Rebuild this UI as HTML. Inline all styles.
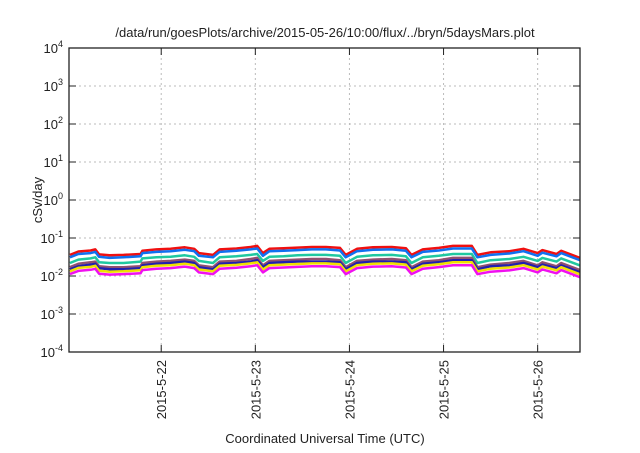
<!DOCTYPE html>
<html><head><meta charset="utf-8"><style>
body{margin:0;background:#fff}
svg text{font-family:"Liberation Sans",sans-serif;fill:#222}
</style></head><body>
<svg width="640" height="448" id="c"></svg>
<script>
const times=[21.03,21.12,21.25,21.30,21.34,21.45,21.60,21.78,21.80,21.95,22.10,22.25,22.35,22.40,22.55,22.62,22.80,22.95,23.02,23.08,23.15,23.30,23.45,23.60,23.75,23.90,23.96,24.08,24.25,24.45,24.60,24.66,24.78,24.95,25.10,25.30,25.36,25.50,25.70,25.85,26.00,26.05,26.20,26.25,26.45];
const redVals=[.036,.044,.047,.050,.037,.035,.036,.038,.046,.050,.052,.057,.052,.040,.036,.050,.053,.058,.062,.040,.052,.054,.056,.058,.058,.055,.036,.052,.057,.058,.054,.036,.050,.055,.062,.062,.036,.042,.045,.052,.040,.048,.038,.046,.030];
const blueVals=[.031,.038,.040,.043,.032,.030,.031,.033,.040,.043,.045,.049,.045,.034,.031,.043,.046,.050,.053,.034,.045,.046,.048,.050,.050,.047,.031,.045,.049,.050,.046,.031,.043,.047,.053,.053,.031,.036,.039,.045,.034,.041,.033,.040,.026];
const tealVals=[.022,.027,.029,.031,.023,.022,.022,.024,.029,.031,.032,.035,.032,.025,.022,.031,.033,.036,.038,.025,.032,.033,.035,.036,.036,.034,.022,.032,.035,.036,.033,.022,.031,.034,.038,.038,.022,.026,.028,.032,.025,.030,.024,.029,.019];
const purpleVals=[.017,.021,.023,.024,.018,.017,.017,.018,.022,.024,.025,.027,.025,.019,.017,.024,.025,.028,.030,.019,.025,.026,.027,.028,.028,.026,.017,.025,.027,.028,.026,.017,.024,.026,.030,.030,.017,.020,.022,.025,.019,.023,.018,.022,.0144];
const navyVals=[.015,.018,.020,.021,.016,.015,.015,.016,.019,.021,.022,.024,.022,.017,.015,.021,.022,.024,.026,.017,.022,.023,.024,.024,.024,.023,.015,.022,.024,.024,.023,.015,.021,.023,.026,.026,.015,.018,.019,.022,.017,.020,.016,.019,.0126];
const yellowVals=[.0133,.0163,.0174,.0185,.0137,.0130,.0133,.0141,.0170,.0185,.0192,.0211,.0192,.0148,.0133,.0185,.0196,.0215,.0229,.0148,.0192,.0200,.0207,.0215,.0215,.0204,.0133,.0192,.0211,.0215,.0200,.0133,.0185,.0204,.0229,.0229,.0133,.0155,.0167,.0192,.0148,.0178,.0141,.0170,.0111];
const magentaVals=[.0112,.0136,.0146,.0155,.0115,.0109,.0112,.0118,.0143,.0155,.0161,.0177,.0161,.0124,.0112,.0155,.0164,.0180,.0192,.0124,.0161,.0167,.0174,.0180,.0180,.0171,.0112,.0161,.0177,.0180,.0167,.0112,.0155,.0171,.0192,.0192,.0112,.0130,.0140,.0161,.0124,.0149,.0118,.0143,.0093];
const xTickDays=[22,23,24,25,26];
const xTickLabels=["2015-5-22","2015-5-23","2015-5-24","2015-5-25","2015-5-26"];
const yExps=[-4,-3,-2,-1,0,1,2,3,4];

const L=69,R=580,T=48,B=352,x0=21.02,x1=26.45;
const X=t=>L+(t-x0)/(x1-x0)*(R-L);
const Y=v=>B-(Math.log10(v)+4)/8*(B-T);
const svg=document.getElementById('c'),NS="http://www.w3.org/2000/svg";
function mk(tag,a,p){const e=document.createElementNS(NS,tag);for(const k in a)e.setAttribute(k,a[k]);(p||svg).appendChild(e);return e;}

const title=mk('text',{x:325,y:37,'text-anchor':'middle','font-size':13});


title.textContent='/data/run/goesPlots/archive/2015-05-26/10:00/flux/../bryn/5daysMars.plot';

yExps.forEach(e=>{
 const y=Y(Math.pow(10,e));
 if(e>-4&&e<4){const g=mk('line',{x1:L,x2:R,y1:y,y2:y,stroke:'#bbb','stroke-dasharray':'2,3','stroke-width':1});
 
 }
 mk('line',{x1:L,x2:L+7,y1:y,y2:y,stroke:'#222'});
 mk('line',{x1:R,x2:R-7,y1:y,y2:y,stroke:'#222'});
 const t=mk('text',{x:L-6,y:y+5,'text-anchor':'end','font-size':13});
 
 
 t.textContent='10';
 const s=mk('tspan',{dy:-6,'font-size':9},t);s.textContent=String(e);
});
xTickDays.forEach((d,i)=>{
 const x=X(d);
 const g=mk('line',{x1:x,x2:x,y1:T,y2:B,stroke:'#bbb','stroke-dasharray':'2,3'});
 
 
 mk('line',{x1:x,x2:x,y1:B,y2:B-7,stroke:'#222'});
 mk('line',{x1:x,x2:x,y1:T,y2:T+7,stroke:'#222'});
 const t=mk('text',{x:0,y:0,'text-anchor':'end','font-size':13,transform:`translate(${x+5},${B+8}) rotate(-90)`});
 
 
 t.textContent=xTickLabels[i];
});
const series=[['red',redVals,'#f01010'],['blue',blueVals,'#1070f0'],['teal',tealVals,'#20c8a0'],['purple',purpleVals,'#905070'],['navy',navyVals,'#2020b0'],['yellow',yellowVals,'#f0e000'],['magenta',magentaVals,'#f010f0']];
series.forEach(([n,vals,c])=>{
 const d=vals.map((v,i)=>(i?'L':'M')+X(times[i]).toFixed(1)+','+Y(v).toFixed(1)).join('');
 const p=mk('path',{d:d,fill:'none',stroke:c,'stroke-width':2.5,'stroke-linejoin':'round'});
 
 
});
const fr=mk('rect',{x:L,y:T,width:R-L,height:B-T,fill:'none',stroke:'#222','stroke-width':1.3});


const yt=mk('text',{x:0,y:0,'text-anchor':'middle','font-size':13,transform:'translate(42,200) rotate(-90)'});


yt.textContent='cSv/day';
const xt=mk('text',{x:325,y:443,'text-anchor':'middle','font-size':13});


xt.textContent='Coordinated Universal Time (UTC)';
</script>
</body></html>
